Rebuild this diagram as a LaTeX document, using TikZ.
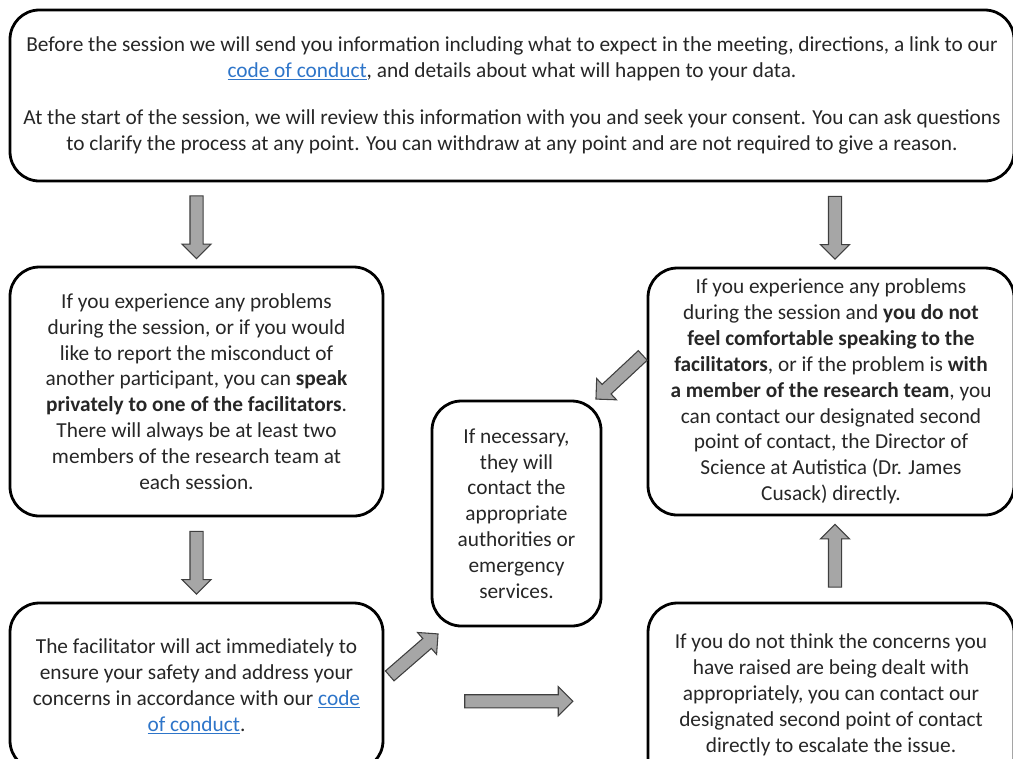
\documentclass[tikz,border=0pt]{standalone}
\usepackage{fontspec}
\setmainfont{Carlito}
\usetikzlibrary{shapes.arrows,calc}
\definecolor{txtgrey}{HTML}{262626}
\definecolor{linkblue}{HTML}{2E75C9}
\definecolor{arrowfill}{HTML}{A6A6A6}
\definecolor{arrowline}{HTML}{3F3F3F}
\newcommand\lnk[1]{\textcolor{linkblue}{\underline{#1}}}

\begin{document}
\begin{tikzpicture}[x=0.75pt, y=-0.75pt,
    box/.style 2 args={draw, line width=2.1pt, rounded corners=22pt, align=center,
      text=txtgrey, inner sep=0pt, minimum width=#1, minimum height=#2,
      font=\fontsize{16}{19.4}\selectfont},
    blockarrow/.style={single arrow, draw=arrowline, fill=arrowfill, line width=0.8pt,
      inner sep=4.5pt, single arrow head extend=6pt, minimum height=#1},
    blockarrow/.default=47pt]
    \useasboundingbox (0,0) rectangle (1013,758);

    % boxes
    %% start
    \node[box={753pt}{128.25pt}] (top) at (512,95.5)
      {Before the session we will send you information including what to expect in the meeting, directions, a link to our\\
       \lnk{code of conduct}, and details about what will happen to your data.\\[16pt]
       At the start of the session, we will review this information with you and seek your consent. You can ask questions\\
       to clarify the process at any point. You can withdraw at any point and are not required to give a reason.};
    %% left column
    \node[box={279.75pt}{186.75pt}] (lbox) at (196.5,391.5)
      {If you experience any problems\\
       during the session, or if you would\\
       like to report the misconduct of\\
       another participant, you can \textbf{speak}\\
       \textbf{privately to one of the facilitators}.\\
       There will always be at least two\\
       members of the research team at\\
       each session.};
    \node[box={279.75pt}{125.25pt}] (lbot) at (196.5,686.5)
      {The facilitator will act immediately to\\
       ensure your safety and address your\\
       concerns in accordance with our \lnk{code}\\
       \lnk{of conduct}.};
    %% middle
    \node[box={126.75pt}{168.75pt}] (mid) at (516.5,513.5)
      {If necessary,\\ they will\\ contact the\\ appropriate\\ authorities or\\ emergency\\ services.};
    %% right column
    \node[box={274.5pt}{185.25pt}] (rbox) at (831,391.5)
      {If you experience any problems\\
       during the session and \textbf{you do not}\\
       \textbf{feel comfortable speaking to the}\\
       \textbf{facilitators}, or if the problem is \textbf{with}\\
       \textbf{a member of the research team}, you\\
       can contact our designated second\\
       point of contact, the Director of\\
       Science at Autistica (Dr. James\\
       Cusack) directly.};
    \node[box={274.5pt}{138pt}] (rbot) at (831,695)
      {If you do not think the concerns you\\
       have raised are being dealt with\\
       appropriately, you can contact our\\
       designated second point of contact\\
       directly to escalate the issue.};

    % arrows
    \node[blockarrow, rotate=-90] (a1) at ($(top.south -| lbox.north)!0.5!(lbox.north)$) {};
    \node[blockarrow, rotate=-90] (a2) at ($(top.south -| rbox.north)!0.5!(rbox.north)+(4,0)$) {};
    \node[blockarrow, rotate=-90] (a3) at ($(lbox.south)!0.5!(lbot.north)$) {};
    \node[blockarrow, rotate=90] (a4) at ($(rbot.north)!0.5!(rbox.south)+(4,0)$) {};
    \node[blockarrow=48pt, rotate=223, anchor=tip] (a5) at ([shift={(-7,0)}]mid.north east) {};
    \node[blockarrow=48pt, rotate=41, anchor=tip] (a6) at ([shift={(8,6)}]mid.south west) {};
    \node[blockarrow=81pt] (a7) at ($(lbot.east)!0.5!(rbot.west)+(0,10.5)$) {};
\end{tikzpicture}
\end{document}
